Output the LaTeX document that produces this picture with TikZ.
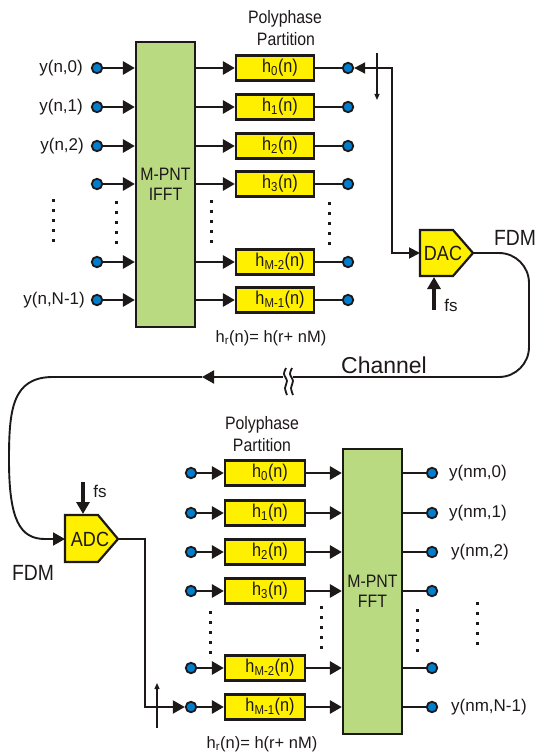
\documentclass[tikz,border=0pt]{standalone}
\usepackage{fontspec}
\setmainfont{Liberation Sans}
\newfontfamily\condfont[FakeStretch=0.88]{Liberation Sans}
\usetikzlibrary{arrows.meta,calc}
\definecolor{dotblue}{RGB}{0,125,205}
\definecolor{hyel}{RGB}{255,240,0}
\definecolor{fgreen}{RGB}{186,218,130}
\definecolor{ink}{RGB}{30,25,25}
\tikzset{
  pin/.style={circle,draw=ink,fill=dotblue,line width=1.8pt,minimum size=10.5pt,inner sep=0pt},
  hbox/.style={draw=ink,fill=hyel,line width=2.2pt,minimum width=78pt,minimum height=25pt,inner sep=0pt,text=ink,font=\condfont\fontsize{18.5}{18}\selectfont},
  fbox/.style={draw=ink,fill=fgreen,line width=2.2pt,inner sep=0pt,align=center,text=ink,font=\condfont\fontsize{18}{20}\selectfont},
  conn/.style={draw=ink,line width=2.8pt},
  wire/.style={draw=ink,line width=1.9pt},
  thinwire/.style={draw=ink,line width=1.3pt,-{Triangle[length=6pt,width=5pt]}},
  arr/.style={-{Triangle[length=12pt,width=13pt]}},
  fsarr/.style={draw=ink,line width=3.2pt,-{Triangle[length=12pt,width=13pt]}},
  lab/.style={font=\fontsize{17}{17}\selectfont,text=ink,inner sep=0pt},
  ctext/.style={font=\condfont\fontsize{18}{18}\selectfont,text=ink,inner sep=0pt},
  vdots/.style={draw=ink,line width=3pt,dash pattern=on 3pt off 7pt},
  conv/.style={draw=ink,fill=hyel,line width=2.2pt,line join=miter},
}
\begin{document}
\begin{tikzpicture}[x=1pt,y=-1pt]
\useasboundingbox (0,0) rectangle (538,754);
% ---------------- top half ----------------
\node[ctext] (pp1) at (285,19) {Polyphase};
\node[ctext] (pt1) at (286,39) {Partition};
\node[fbox,minimum width=59pt,minimum height=285pt] (ifft) at (165.5,184.5) {M-PNT\\IFFT};
\foreach \n/\y/\s in {0/68/0,1/107/1,2/146/2,3/184/3,4/262/M-2,5/300/M-1}{
  \node[pin] (ti\n) at (97,\y) {};
  \node[hbox] (th\n) at (275,\y) {\hspace{10pt}h\textsubscript{\s}(n)};
  \node[pin] (to\n) at (348,\y) {};
  \draw[conn,arr] (ti\n) -- (ti\n -| ifft.west);
  \draw[conn,arr] (ifft.east |- th\n) -- (th\n);
  \draw[conn] (th\n) -- (to\n);
}
\node[lab,anchor=east] (l0) at (83,68) {y(n,0)};
\node[lab,anchor=east] (l1) at (83,107) {y(n,1)};
\node[lab,anchor=east] (l2) at (84,146) {y(n,2)};
\node[lab,anchor=east] (l5) at (85,300) {y(n,N-1)};
\draw[vdots] (53,199) -- (53,242);
\draw[vdots] (116,201) -- (116,244);
\draw[vdots] (211,200) -- (211,243);
\draw[vdots] (329,202) -- (329,245);
\node[lab,font=\fontsize{16.5}{16}\selectfont] (hr1) at (271,338) {h\textsubscript{r}(n)= h(r+ nM)};
% DAC
\draw[conv] (420,230) -- (453,230) -- (473,253) -- (453,276) -- (420,276) -- cycle;
\node[ctext,font=\condfont\fontsize{20.5}{20}\selectfont] (dac) at (443,253) {DAC};
\coordinate (dacL) at (420,253);
\coordinate (dacT) at (473,253);
\coordinate (dacB) at (434,277);
\coordinate (fsT) at (434,310);
\draw[fsarr] (fsT) -- (dacB);
\node[lab] (fs1) at (451,305) {fs};
\node[ctext,font=\condfont\fontsize{22}{22}\selectfont] (fdm1) at (515,238) {FDM};
\coordinate (k1) at (392,68);
\coordinate (k2) at (392,253);
\draw[wire,{Triangle[length=11pt,width=11pt]}-{Triangle[length=11pt,width=11pt]}] (to0) -- (k1) -- (k2) -- (dacL);
\coordinate (c1a) at (377,53);
\coordinate (c1b) at (377,100);
\draw[thinwire] (c1a) -- (c1b);
% channel
\coordinate (brkR) at (293,377);
\coordinate (brkL) at (283,377);
\coordinate (chA) at (202,377);
\draw[wire,rounded corners=30pt] (dacT) -- (529,253) -- (529,377) -- (brkR);
\draw[line width=1.8pt,draw=ink] plot[smooth] coordinates {(286,368) (284,374) (287,381) (285,388) (287,395)};
\draw[line width=1.8pt,draw=ink] plot[smooth] coordinates {(292,368) (290,374) (293,381) (291,388) (293,395)};
\node[lab,font=\fontsize{23}{23}\selectfont] (chan) at (384,365) {Channel};
% ADC
\draw[conv] (65,515) -- (98,515) -- (118,539) -- (98,562) -- (65,562) -- cycle;
\node[ctext,font=\condfont\fontsize{20.5}{20}\selectfont] (adc) at (90,539) {ADC};
\coordinate (adcL) at (65,539);
\coordinate (adcT) at (118,539);
\coordinate (adcTop) at (83,514);
\coordinate (fsB) at (83,482);
\draw[wire,arr] (brkL) -- (chA);
\draw[wire,arr] (chA) -- (53,377) .. controls (12,377) and (9,410) .. (9,460) .. controls (9,520) and (20,539) .. (45,539) -- (adcL);
\draw[fsarr] (fsB) -- (adcTop);
\node[lab] (fs2) at (100,491) {fs};
\node[ctext,font=\condfont\fontsize{22}{22}\selectfont] (fdm2) at (33,573) {FDM};
% ---------------- bottom half ----------------
\node[ctext] (pp2) at (262,425) {Polyphase};
\node[ctext] (pt2) at (262,445) {Partition};
\node[fbox,minimum width=59pt,minimum height=285pt] (fft) at (372.5,591.5) {M-PNT\\FFT};
\foreach \n/\y/\s in {0/473/0,1/513/1,2/552/2,3/591/3,4/668/M-2,5/707/M-1}{
  \node[pin] (bi\n) at (191,\y) {};
  \node[hbox,minimum width=80pt] (bh\n) at (265,\y) {\hspace{10pt}h\textsubscript{\s}(n)};
  \node[pin] (bo\n) at (432,\y) {};
  \draw[conn,arr] (bi\n) -- (bh\n);
  \draw[conn,arr] (bh\n) -- (bh\n -| fft.west);
  \draw[conn] (bo\n -| fft.east) -- (bo\n);
}
\node[lab,anchor=west] (m0) at (449,473) {y(nm,0)};
\node[lab,anchor=west] (m1) at (449,513) {y(nm,1)};
\node[lab,anchor=west] (m2) at (451,552) {y(nm,2)};
\node[lab,anchor=west] (m5) at (451,707) {y(nm,N-1)};
\draw[vdots] (210,611) -- (210,654);
\draw[vdots] (321,606) -- (321,649);
\draw[vdots] (417,609) -- (417,652);
\draw[vdots] (477,602) -- (477,645);
\node[lab,font=\fontsize{16.5}{16}\selectfont] (hr2) at (262,744) {h\textsubscript{r}(n)= h(r+ nM)};
\coordinate (a1) at (145,539);
\coordinate (a2) at (145,707);
\draw[wire,arr] (adcT) -- (a1) -- (a2) -- (bi5);
\coordinate (c2a) at (157,728);
\coordinate (c2b) at (157,683);
\draw[thinwire] (c2a) -- (c2b);
\end{tikzpicture}
\end{document}
